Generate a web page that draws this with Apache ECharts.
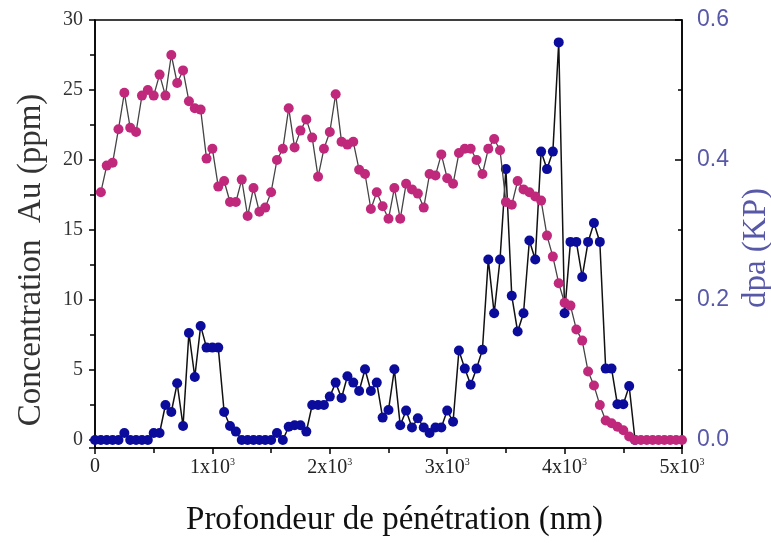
<!DOCTYPE html>
<html>
<head>
<meta charset="utf-8">
<title>Au / dpa</title>
<script src="https://cdn.jsdelivr.net/npm/echarts@6/dist/echarts.min.js"></script>
<style>
html, body { margin: 0; padding: 0; background: #fff; }
#main { width: 771px; height: 543px; }
</style>
</head>
<body>
<div id="main"></div>
<script>
// 深度 (nm) - Au 浓度
var depthAu = [50, 100, 150, 200, 250, 300, 350, 400, 450, 500,
    550, 600, 650, 700, 750, 800, 850, 900, 950, 1000,
    1050, 1100, 1150, 1200, 1250, 1300, 1350, 1400, 1450, 1500,
    1550, 1600, 1650, 1700, 1750, 1800, 1850, 1900, 1950, 2000,
    2050, 2100, 2150, 2200, 2250, 2300, 2350, 2400, 2450, 2500,
    2550, 2600, 2650, 2700, 2750, 2800, 2850, 2900, 2950, 3000,
    3050, 3100, 3150, 3200, 3250, 3300, 3350, 3400, 3450, 3500,
    3550, 3600, 3650, 3700, 3750, 3800, 3850, 3900, 3950, 4000,
    4050, 4100, 4150, 4200, 4250, 4300, 4350, 4400, 4450, 4500,
    4550, 4600, 4650, 4700, 4750, 4800, 4850, 4900, 4950, 5000];
// Au (ppm)
var concAu = [17.7, 19.6, 19.8, 22.2, 24.8, 22.3, 22.0, 24.6, 25.0, 24.6,
    26.1, 24.6, 27.5, 25.5, 26.4, 24.2, 23.7, 23.6, 20.1, 20.8,
    18.1, 18.5, 17.0, 17.0, 18.6, 16.0, 18.0, 16.3, 16.6, 17.7,
    20.0, 20.8, 23.7, 20.9, 22.1, 22.9, 21.6, 18.8, 20.8, 22.0,
    24.7, 21.3, 21.1, 21.3, 19.3, 19.0, 16.5, 17.7, 16.7, 15.8,
    18.0, 15.8, 18.3, 17.9, 17.6, 16.6, 19.0, 18.9, 20.4, 18.7,
    18.3, 20.5, 20.8, 20.8, 20.0, 19.0, 20.8, 21.5, 20.7, 17.0,
    16.8, 18.5, 17.9, 17.7, 17.4, 17.1, 14.6, 13.1, 11.2, 9.8,
    9.6, 7.9, 7.1, 4.9, 3.9, 2.5, 1.4, 1.2, 0.95, 0.7,
    0.25, 0, 0, 0, 0, 0, 0, 0, 0, 0];

// 深度 (nm) - dpa
var depthDpa = [0, 50, 100, 150, 200, 250, 300, 350, 400, 450,
    500, 550, 600, 650, 700, 750, 800, 850, 900, 950,
    1000, 1050, 1100, 1150, 1200, 1250, 1300, 1350, 1400, 1450,
    1500, 1550, 1600, 1650, 1700, 1750, 1800, 1850, 1900, 1950,
    2000, 2050, 2100, 2150, 2200, 2250, 2300, 2350, 2400, 2450,
    2500, 2550, 2600, 2650, 2700, 2750, 2800, 2850, 2900, 2950,
    3000, 3050, 3100, 3150, 3200, 3250, 3300, 3350, 3400, 3450,
    3500, 3550, 3600, 3650, 3700, 3750, 3800, 3850, 3900, 3950,
    4000, 4050, 4100, 4150, 4200, 4250, 4300, 4350, 4400, 4450,
    4500, 4550, 4600];
// dpa (KP)
var dpaKP = [0, 0, 0, 0, 0, 0.01, 0, 0, 0, 0,
    0.01, 0.01, 0.05, 0.04, 0.081, 0.02, 0.153, 0.09, 0.163, 0.132,
    0.132, 0.132, 0.04, 0.02, 0.012, 0, 0, 0, 0, 0,
    0, 0.01, 0, 0.019, 0.021, 0.021, 0.012, 0.05, 0.05, 0.05,
    0.062, 0.082, 0.06, 0.091, 0.082, 0.07, 0.101, 0.07, 0.082, 0.032,
    0.043, 0.101, 0.021, 0.042, 0.018, 0.031, 0.018, 0.01, 0.018, 0.018,
    0.042, 0.026, 0.128, 0.102, 0.079, 0.102, 0.129, 0.258, 0.181, 0.258,
    0.387, 0.206, 0.155, 0.181, 0.285, 0.258, 0.412, 0.387, 0.412, 0.568,
    0.181, 0.283, 0.283, 0.233, 0.283, 0.31, 0.283, 0.102, 0.102, 0.051,
    0.051, 0.077, 0];

// x 轴刻度文字
var xTickLabels = ['0', '1x10', '2x10', '3x10', '4x10', '5x10'];

var serif = 'Liberation Serif';
var sans = 'Liberation Sans';
var blueText = '#5858a8';

function pairs(xs, ys) {
    var out = [];
    for (var i = 0, len = xs.length; i < len; i++) {
        out.push([xs[i], ys[i]]);
    }
    return out;
}

var chart = echarts.init(document.getElementById('main'));

var option = {
    animation: false,
    backgroundColor: '#fff',
    grid: {
        left: 95, right: 89, top: 20, bottom: 95,
        outerBoundsMode: 'none',
        show: true, borderColor: '#000', borderWidth: 1.5
    },
    xAxis: {
        type: 'value',
        min: 0, max: 5000, interval: 1000,
        name: 'Profondeur de pénétration (nm)',
        nameLocation: 'middle',
        nameGap: 56,
        nameTextStyle: { fontFamily: serif, fontSize: 33, color: '#111', padding: [0, 0, 0, 12] },
        axisLine: { onZero: false, lineStyle: { color: '#000', width: 1.5 } },
        axisTick: { length: 6, lineStyle: { color: '#000', width: 1.5 } },
        minorTick: { show: true, splitNumber: 2, length: 5, lineStyle: { color: '#000', width: 1.5 } },
        splitLine: { show: false },
        axisLabel: {
            margin: 9,
            formatter: function (v) {
                var idx = Math.round(v / 1000);
                if (idx === 0) return '{b|' + xTickLabels[0] + '}';
                return '{b|' + xTickLabels[idx] + '}{s|3}';
            },
            rich: {
                b: { fontFamily: serif, fontSize: 20, color: '#222' },
                s: { fontFamily: serif, fontSize: 10, color: '#222', padding: [0, 0, 11, 0] }
            }
        }
    },
    yAxis: [{
        type: 'value',
        position: 'left',
        min: -0.57, max: 30, splitNumber: 6,
        name: 'Concentration  Au (ppm)',
        nameLocation: 'middle',
        nameRotate: 90,
        nameGap: 47,
        nameTextStyle: { fontFamily: serif, fontSize: 33, color: '#333', padding: [0, 52, 0, 0] },
        axisLine: { show: true, onZero: false, lineStyle: { color: '#000', width: 1.5 } },
        axisTick: { length: 6, lineStyle: { color: '#000', width: 1.5 } },
        minorTick: { show: true, splitNumber: 2, length: 5, lineStyle: { color: '#000', width: 1.5 } },
        splitLine: { show: false },
        axisLabel: {
            margin: 12,
            fontFamily: serif, fontSize: 20, color: '#333',
            formatter: function (v) {
                return (Math.abs(v % 5) < 1e-6) ? String(v) : '';
            }
        }
    }, {
        type: 'value',
        position: 'right',
        min: -0.0114, max: 0.6, splitNumber: 3,
        name: 'dpa (KP)',
        nameLocation: 'middle',
        nameRotate: 90,
        nameGap: 50,
        nameTextStyle: { fontFamily: serif, fontSize: 33, color: blueText, padding: [0, 28, 0, 0] },
        axisLine: { show: true, onZero: false, lineStyle: { color: '#000', width: 1.5 } },
        axisTick: { inside: true, length: 7, lineStyle: { color: '#000', width: 1.5 } },
        minorTick: { show: true, splitNumber: 2, length: 4, lineStyle: { color: '#000', width: 1.5 } },
        splitLine: { show: false },
        axisLabel: {
            margin: 15,
            fontFamily: sans, fontSize: 23, color: blueText,
            formatter: function (v) {
                return v < 0 ? '' : v.toFixed(1);
            }
        }
    }],
    series: [{
        name: 'dpa',
        type: 'line',
        yAxisIndex: 1,
        data: pairs(depthDpa, dpaKP),
        symbol: 'circle',
        symbolSize: 10,
        itemStyle: { color: '#0c0c9c' },
        lineStyle: { color: '#111', width: 1.5 },
        z: 2
    }, {
        name: 'Au',
        type: 'line',
        yAxisIndex: 0,
        data: pairs(depthAu, concAu),
        symbol: 'circle',
        symbolSize: 10,
        itemStyle: { color: '#c0287c' },
        lineStyle: { color: '#444', width: 1.3 },
        z: 3
    }]
};

chart.setOption(option);
</script>
</body>
</html>
